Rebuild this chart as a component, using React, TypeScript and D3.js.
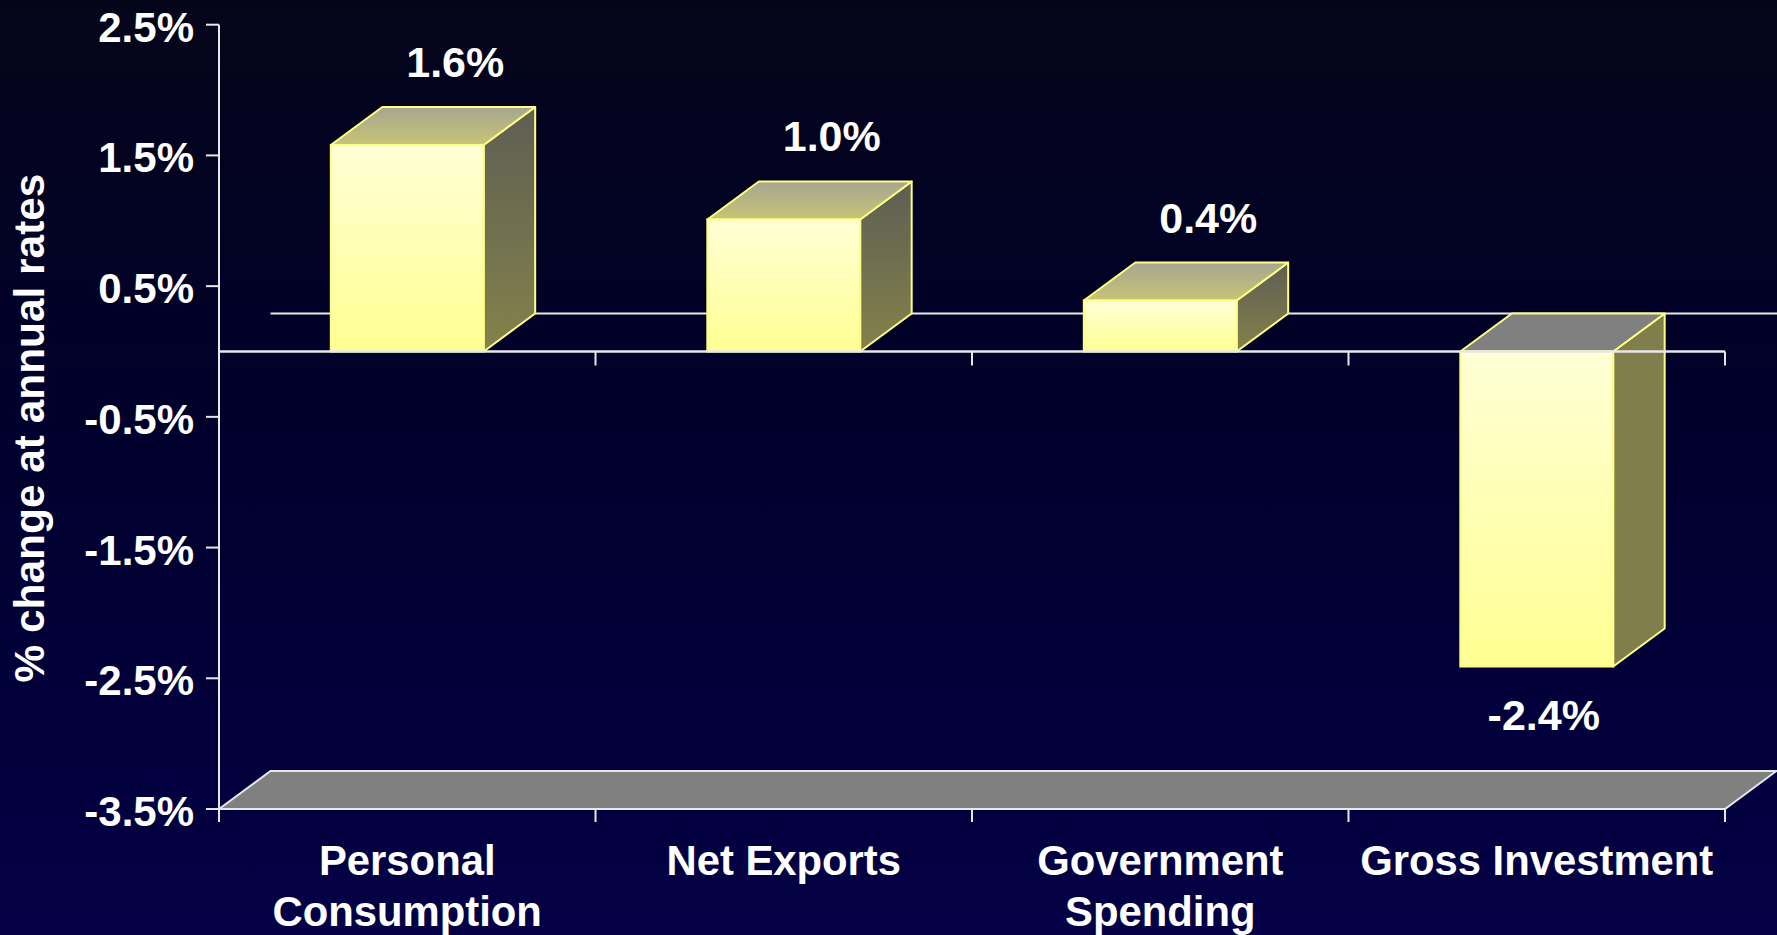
import React from "react";
import * as d3 from "d3";

const categories: string[][] = [
  ["Personal", "Consumption"],
  ["Net Exports"],
  ["Government", "Spending"],
  ["Gross Investment"],
];
const values: number[] = [1.58, 1.01, 0.39, -2.41];
const valueLabels: string[] = ["1.6%", "1.0%", "0.4%", "-2.4%"];
const yTicks: number[] = [2.5, 1.5, 0.5, -0.5, -1.5, -2.5, -3.5];
const yTitle = "% change at annual rates";

const W = 1777;
const H = 935;
const FONT = "'Liberation Sans', Arial, Helvetica, sans-serif";

export default function App() {
  const keys = categories.map((c) => c.join(" "));
  const x = d3.scaleBand<string>().domain(keys).range([219, 1725]).paddingInner(0.594).paddingOuter(0.297);
  const step = x.step();
  const y = d3.scaleLinear().domain([-3.5, 2.5]).range([809, 24.7]);
  const dx = 51.5;
  const dy = -38;
  const y0 = y(0);
  const yFloor = y(-3.5);
  const [xMin, xMax] = x.range();
  const boundaries = d3.range(keys.length + 1).map((i) => xMin + i * step);
  const axisColor = "#e8e8ec";

  return (
    <svg width={W} height={H} style={{ position: "fixed", left: 0, top: 0, display: "block" }}>
      <defs>
        <linearGradient id="bg" x1="0" y1="0" x2="0" y2="1">
          <stop offset="0" stopColor="#05051a" />
          <stop offset="0.45" stopColor="#00002c" />
          <stop offset="1" stopColor="#040046" />
        </linearGradient>
        <linearGradient id="front" x1="0" y1="0" x2="0" y2="1">
          <stop offset="0" stopColor="#ffffd6" />
          <stop offset="1" stopColor="#ffff92" />
        </linearGradient>
        <linearGradient id="side" x1="0" y1="0" x2="0" y2="1">
          <stop offset="0" stopColor="#5e5e54" />
          <stop offset="1" stopColor="#84824a" />
        </linearGradient>
        <linearGradient id="top" x1="0" y1="0" x2="0" y2="1">
          <stop offset="0" stopColor="#a6a690" />
          <stop offset="1" stopColor="#c8c476" />
        </linearGradient>
      </defs>
      <rect x={0} y={0} width={W} height={H} fill="url(#bg)" />

      {/* back wall base line at zero */}
      <line x1={xMin + dx} x2={W} y1={y0 + dy} y2={y0 + dy} stroke={axisColor} strokeWidth={2} />

      {/* floor */}
      <polygon
        points={`${xMin},${yFloor} ${xMin + dx},${yFloor + dy} ${xMax + dx},${yFloor + dy} ${xMax},${yFloor}`}
        fill="#808080"
        stroke={axisColor}
        strokeWidth={2}
      />

      {/* y axis */}
      <line x1={xMin} x2={xMin} y1={y(2.5)} y2={yFloor + 13} stroke={axisColor} strokeWidth={2} />
      {yTicks.map((t) => (
        <g key={t}>
          <line x1={xMin - 13} x2={xMin} y1={y(t)} y2={y(t)} stroke={axisColor} strokeWidth={2} />
          <text
            x={xMin - 25}
            y={y(t) + 17}
            textAnchor="end"
            fill="#ffffff"
            fontFamily={FONT}
            fontWeight="bold"
            fontSize={42}
          >
            {`${t.toFixed(1)}%`}
          </text>
        </g>
      ))}
      {/* floor ticks */}
      {boundaries.map((b, i) => (
        <line key={"f" + i} x1={b} x2={b} y1={yFloor} y2={yFloor + 13} stroke={axisColor} strokeWidth={2} />
      ))}

      {/* bars */}
      {values.map((v, i) => {
        const bx0 = x(keys[i]) as number;
        const bx1 = bx0 + x.bandwidth();
        const yv = y(v);
        const yTop = Math.min(yv, y0);
        const yBot = Math.max(yv, y0);
        const pos = v >= 0;
        const edge = "#ffff84";
        return (
          <g key={keys[i]}>
            <polygon
              points={`${bx1},${yTop} ${bx1 + dx},${yTop + dy} ${bx1 + dx},${yBot + dy} ${bx1},${yBot}`}
              fill={pos ? "url(#side)" : "#807f4c"}
              stroke={edge}
              strokeWidth={2}
              strokeLinejoin="round"
            />
            <polygon
              points={`${bx0},${yTop} ${bx0 + dx},${yTop + dy} ${bx1 + dx},${yTop + dy} ${bx1},${yTop}`}
              fill={pos ? "url(#top)" : "#808080"}
              stroke={edge}
              strokeWidth={2}
              strokeLinejoin="round"
            />
            <rect
              x={bx0}
              y={yTop}
              width={bx1 - bx0}
              height={yBot - yTop}
              fill="url(#front)"
              stroke={edge}
              strokeWidth={2}
            />
          </g>
        );
      })}

      {/* front zero axis line with ticks */}
      <line x1={xMin} x2={xMax} y1={y0} y2={y0} stroke={axisColor} strokeWidth={2.5} />
      {boundaries.slice(1).map((b, i) => (
        <line key={"z" + i} x1={b} x2={b} y1={y0} y2={y0 + 14} stroke={axisColor} strokeWidth={2} />
      ))}

      {/* value labels */}
      {values.map((v, i) => {
        const cx = (x(keys[i]) as number) + x.bandwidth() / 2;
        const pos = v >= 0;
        return (
          <text
            key={"l" + i}
            x={pos ? cx + 48 : cx + 7}
            y={pos ? y(v) - 68 : y(v) + 63}
            textAnchor="middle"
            fill="#ffffff"
            fontFamily={FONT}
            fontWeight="bold"
            fontSize={43}
          >
            {valueLabels[i]}
          </text>
        );
      })}

      {/* category labels */}
      {categories.map((lines, i) => {
        const cx = (x(keys[i]) as number) + x.bandwidth() / 2;
        return (
          <text
            key={"c" + i}
            x={cx}
            y={875}
            textAnchor="middle"
            fill="#ffffff"
            fontFamily={FONT}
            fontWeight="bold"
            fontSize={41.8}
          >
            {lines.map((ln, j) => (
              <tspan key={j} x={cx} dy={j === 0 ? 0 : 51}>
                {ln}
              </tspan>
            ))}
          </text>
        );
      })}

      {/* y axis title */}
      <text
        transform={`translate(44, 428) rotate(-90)`}
        textAnchor="middle"
        fill="#ffffff"
        fontFamily={FONT}
        fontWeight="bold"
        fontSize={42.4}
      >
        {yTitle}
      </text>
    </svg>
  );
}
